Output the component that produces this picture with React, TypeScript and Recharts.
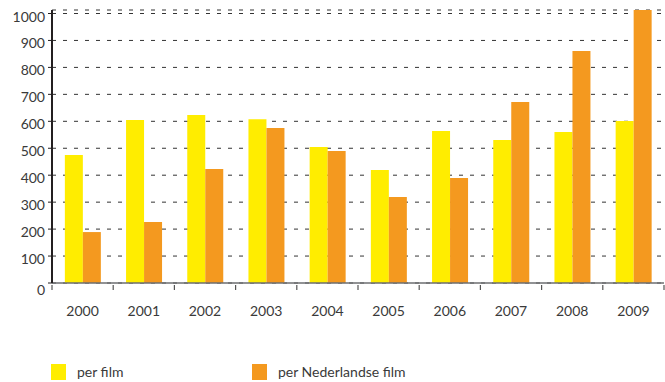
import { BarChart, Bar, XAxis, YAxis, CartesianGrid } from 'recharts'

const years = ['2000', '2001', '2002', '2003', '2004', '2005', '2006', '2007', '2008', '2009']
const perFilm = [475, 605, 623, 608, 505, 419, 564, 531, 560, 601]
const perDutchFilm = [189, 226, 423, 575, 490, 319, 390, 672, 861, 1013]
const yTicks = [0, 100, 200, 300, 400, 500, 600, 700, 800, 900, 1000]

const YELLOW = '#ffed00'
const ORANGE = '#f4991f'
const FONT = 'Lato, "Open Sans", sans-serif'

const data = years.map((year, i) => ({ year, perFilm: perFilm[i], perDutchFilm: perDutchFilm[i] }))

function YTick(props: any) {
  const { x, y, payload } = props
  const dy = payload.value === 0 ? 12 : 8
  return (
    <text x={x} y={y + dy} textAnchor="end" fill="#3a3a3a" fontSize={14} fontFamily={FONT}>
      {payload.value}
    </text>
  )
}

function XTick(props: any) {
  const { x, y, payload, index, width, visibleTicksCount } = props
  const bw = width / visibleTicksCount
  const axisY = y - 4
  return (
    <g>
      {index === 0 && <line x1={x - bw / 2} x2={x - bw / 2} y1={axisY} y2={axisY + 5} stroke="#555" strokeWidth={1.2} />}
      <line x1={x + bw / 2} x2={x + bw / 2} y1={axisY} y2={axisY + 5} stroke="#555" strokeWidth={1.2} />
      <text x={x} y={axisY + 31} textAnchor="middle" fill="#3a3a3a" fontSize={14} fontFamily={FONT}>
        {payload.value}
      </text>
    </g>
  )
}

function LegendItem({ color, label, left }: { color: string; label: string; left: number }) {
  return (
    <div style={{ position: 'absolute', left, top: 363, display: 'flex', alignItems: 'center' }}>
      <div style={{ width: 15, height: 16, background: color }} />
      <span style={{ marginLeft: 11, fontFamily: FONT, fontSize: 14, color: '#3a3a3a' }}>{label}</span>
    </div>
  )
}

export default function App() {
  return (
    <div style={{ position: 'absolute', left: 0, top: 0, width: 665, height: 382, background: '#fff' }}>
      <BarChart
        width={665}
        height={382}
        data={data}
        margin={{ top: 10, right: 1, left: 0, bottom: 0 }}
        barCategoryGap="21%"
        barGap={0}
      >
        <CartesianGrid vertical={false} stroke="#333" strokeDasharray="4 7" />
        <XAxis
          dataKey="year"
          height={99}
          tickLine={false}
          tickSize={4}
          axisLine={{ stroke: '#6d6e71', strokeWidth: 1.5 }}
          tick={<XTick />}
          interval={0}
        />
        <YAxis
          width={52}
          domain={[0, 1000]}
          ticks={yTicks}
          interval={0}
          tickSize={4}
          tickMargin={3}
          axisLine={{ stroke: '#231f20', strokeWidth: 2 }}
          tickLine={{ stroke: '#231f20' }}
          tick={<YTick />}
        />
        <Bar dataKey="perFilm" fill={YELLOW} isAnimationActive={false} />
        <Bar dataKey="perDutchFilm" fill={ORANGE} isAnimationActive={false} />
      </BarChart>
      <LegendItem color={YELLOW} label="per film" left={51} />
      <LegendItem color={ORANGE} label="per Nederlandse film" left={252} />
    </div>
  )
}
